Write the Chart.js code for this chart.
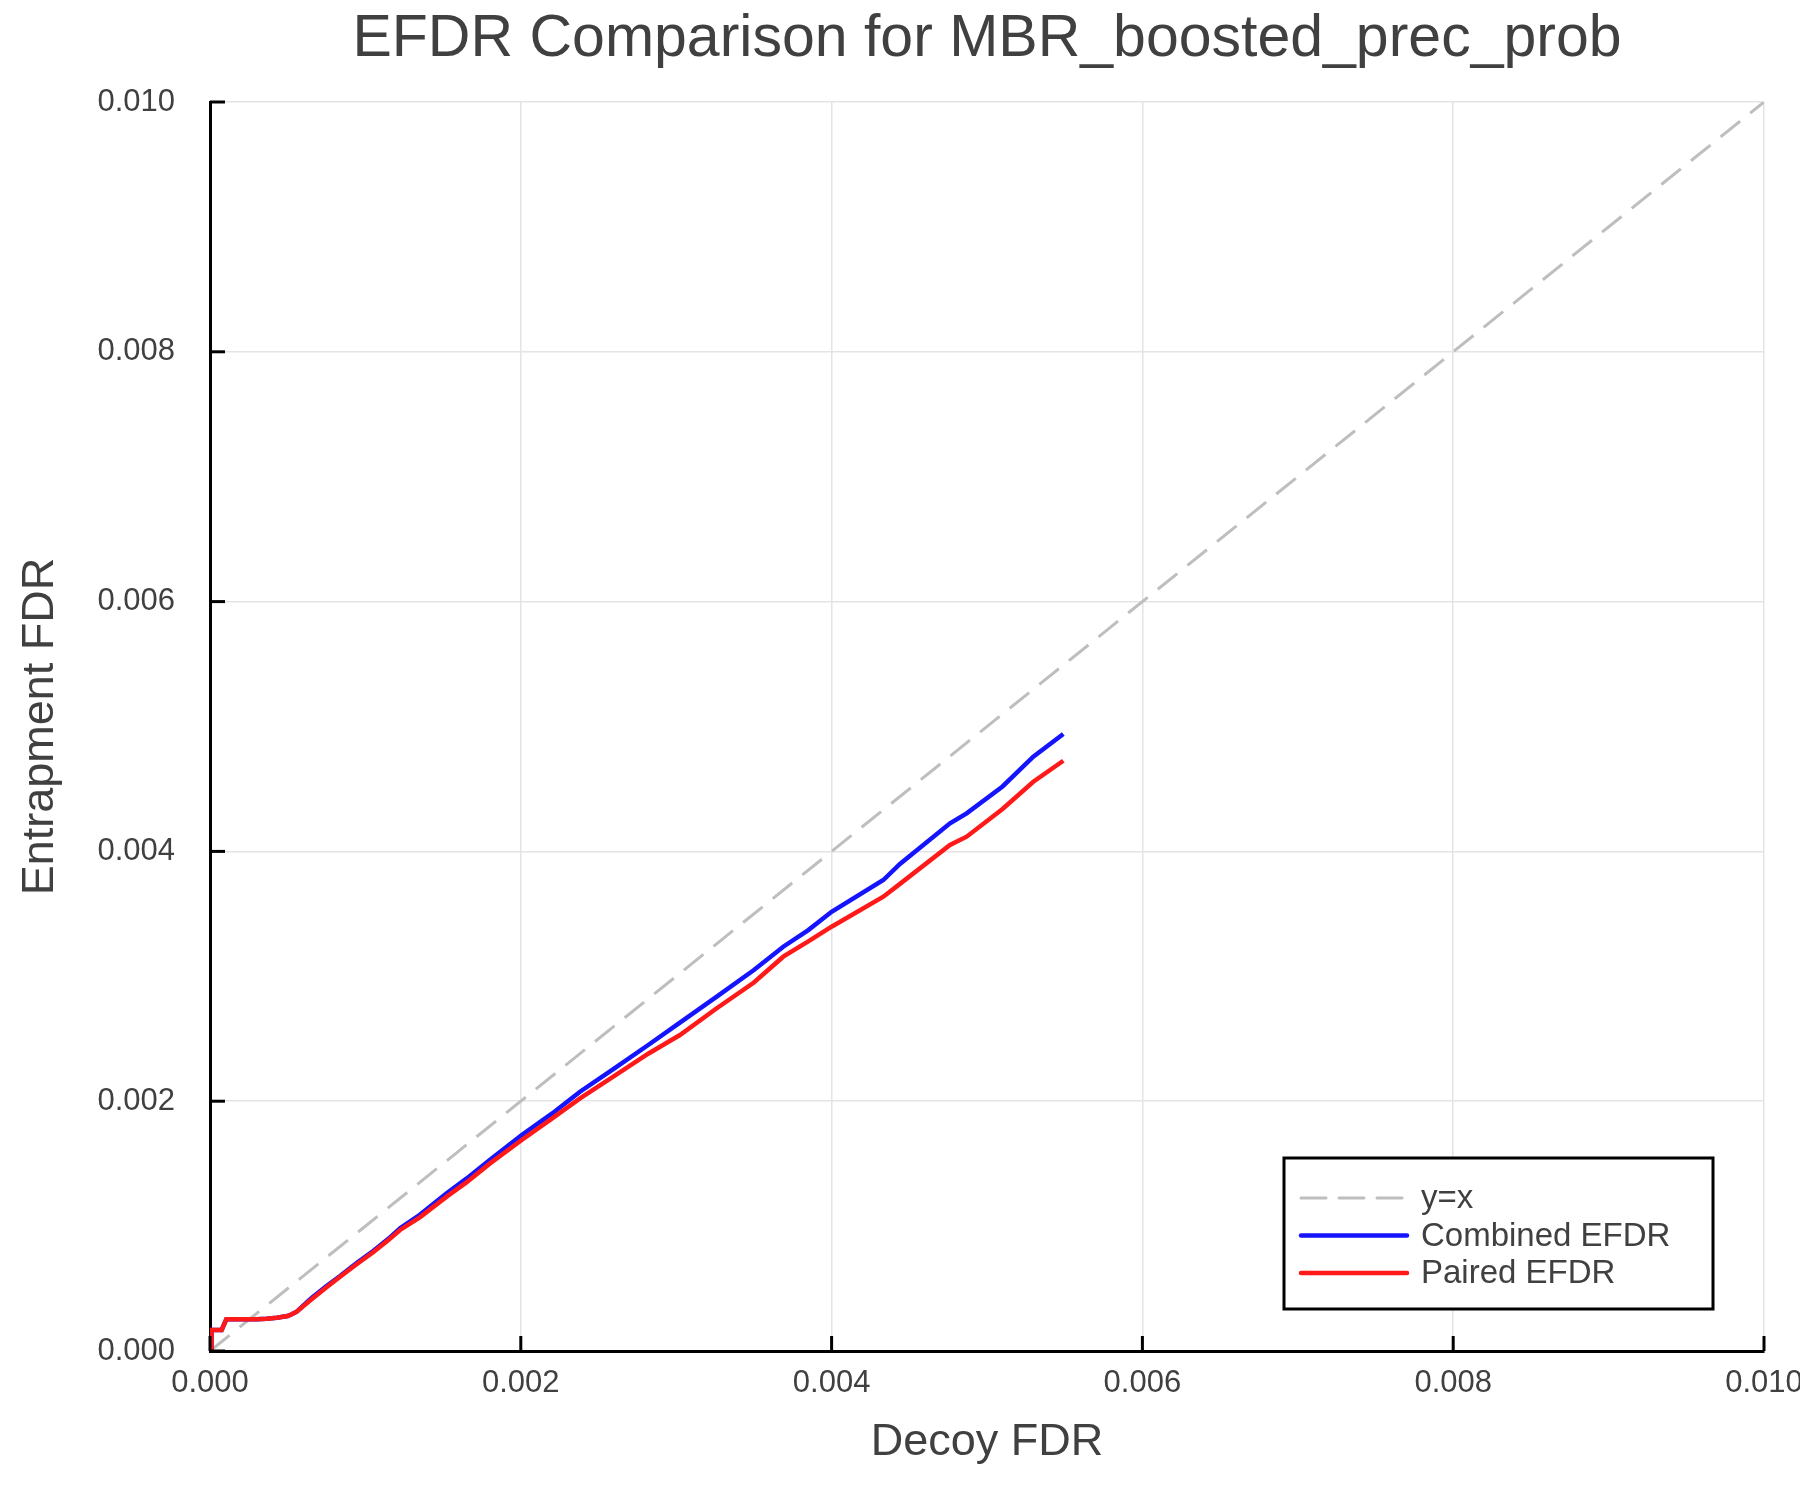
<!DOCTYPE html>
<html>
<head>
<meta charset="utf-8">
<title>EFDR Comparison</title>
<script src="https://cdn.jsdelivr.net/npm/chart.js@4.4.1/dist/chart.umd.min.js"></script>
<style>
  html, body { margin: 0; padding: 0; background: #fff; }
  #wrap { width: 1800px; height: 1500px; }
</style>
</head>
<body>
<div id="wrap"><canvas id="grafico" width="1800" height="1500"></canvas></div>
<script>
// dati
const decoyFdr = [0, 0.000008, 0.00001, 0.000075, 0.000105, 0.0002, 0.0003, 0.000365, 0.00043, 0.0005,
  0.000526, 0.000558, 0.00065, 0.00075, 0.000837, 0.00095, 0.00105, 0.00115, 0.001223, 0.00135,
  0.001523, 0.00165, 0.0018, 0.002006, 0.0022, 0.002381, 0.0026, 0.00282, 0.003024, 0.003261,
  0.0035, 0.003689, 0.00385, 0.004, 0.004333, 0.00444, 0.004762, 0.004869, 0.0051, 0.005298, 0.005491];

const combinedEfdr = [0, 0, 0.000168, 0.000168, 0.000254, 0.000254, 0.000255, 0.000258, 0.000267, 0.00028,
  0.000294, 0.000315, 0.00042, 0.00052, 0.0006, 0.00071, 0.0008, 0.0009, 0.000982, 0.00109,
  0.001262, 0.00138, 0.00153, 0.001729, 0.0019, 0.002076, 0.00226, 0.00245, 0.002629, 0.002837,
  0.00305, 0.003237, 0.00337, 0.003517, 0.003771, 0.0039, 0.004225, 0.004305, 0.00452, 0.004758, 0.00494];

const pairedEfdr = [0, 0, 0.000168, 0.000168, 0.000254, 0.000254, 0.000255, 0.000258, 0.000267, 0.00028,
  0.000294, 0.000315, 0.00041, 0.00051, 0.000595, 0.0007, 0.00079, 0.00089, 0.000969, 0.00107,
  0.001236, 0.00135, 0.0015, 0.001689, 0.00186, 0.002023, 0.0022, 0.00238, 0.00253, 0.002744,
  0.00295, 0.003157, 0.00328, 0.003397, 0.003637, 0.00374, 0.004051, 0.004118, 0.00434, 0.004558, 0.004726];

const identityLine = [0, 0.01];
const tickValues = [0, 0.002, 0.004, 0.006, 0.008, 0.01];

const font = "'Liberation Sans', Arial, sans-serif";
const textColor = "#404040";

// tacche verso l'interno, come nel grafico originale
const tacche = {
  id: "tacche",
  afterDatasetsDraw(chart) {
    const { ctx, chartArea, scales } = chart;
    ctx.save();
    ctx.strokeStyle = "#000";
    ctx.lineWidth = 3;
    tickValues.forEach((v) => {
      const px = scales.x.getPixelForValue(v);
      ctx.beginPath();
      ctx.moveTo(px, chartArea.bottom);
      ctx.lineTo(px, chartArea.bottom - 15);
      ctx.stroke();
      const py = scales.y.getPixelForValue(v);
      ctx.beginPath();
      ctx.moveTo(chartArea.left, py);
      ctx.lineTo(chartArea.left + 15, py);
      ctx.stroke();
    });
    ctx.restore();
  }
};

// legenda dentro l'area del grafico, in basso a destra
const legenda = {
  id: "legenda",
  afterDraw(chart) {
    const { ctx, chartArea } = chart;
    const right = chartArea.right - 51;
    const bottom = chartArea.bottom - 42;
    const left = right - 429;
    const top = bottom - 151;
    ctx.save();
    ctx.fillStyle = "#fff";
    ctx.fillRect(left, top, right - left, bottom - top);
    ctx.strokeStyle = "#000";
    ctx.lineWidth = 3;
    ctx.strokeRect(left, top, right - left, bottom - top);
    ctx.font = "33px " + font;
    ctx.textBaseline = "middle";
    chart.data.datasets.forEach((ds, i) => {
      const y = top + 40 + i * 37.5;
      ctx.strokeStyle = ds.borderColor;
      ctx.lineWidth = ds.borderWidth;
      ctx.lineCap = "round";
      ctx.setLineDash(ds.borderDash || []);
      ctx.beginPath();
      ctx.moveTo(left + 17, y);
      ctx.lineTo(left + 123, y);
      ctx.stroke();
      ctx.setLineDash([]);
      ctx.fillStyle = textColor;
      ctx.fillText(ds.label, left + 137, y + 1);
    });
    ctx.restore();
  }
};

const grafico = new Chart("grafico", {
  type: "scatter",
  data: {
    datasets: [
      {
        label: "y=x",
        data: identityLine.map((v) => ({ x: v, y: v })),
        showLine: true,
        borderColor: "rgb(190,190,190)",
        borderWidth: 3,
        borderDash: [25, 13],
        pointRadius: 0,
        order: 2
      },
      {
        label: "Combined EFDR",
        data: decoyFdr.map((x, i) => ({ x: x, y: combinedEfdr[i] })),
        showLine: true,
        borderColor: "rgb(20,20,255)",
        borderWidth: 4.5,
        pointRadius: 0,
        order: 1
      },
      {
        label: "Paired EFDR",
        data: decoyFdr.map((x, i) => ({ x: x, y: pairedEfdr[i] })),
        showLine: true,
        borderColor: "rgb(255,25,25)",
        borderWidth: 4.5,
        pointRadius: 0,
        order: 0
      }
    ]
  },
  options: {
    responsive: false,
    animation: false,
    devicePixelRatio: 1,
    layout: { padding: { left: 0, right: 36, top: 0, bottom: 0 } },
    plugins: {
      legend: { display: false },
      tooltip: { enabled: false },
      title: {
        display: true,
        fullSize: false,
        text: "EFDR Comparison for MBR_boosted_prec_prob",
        color: textColor,
        font: { family: font, size: 59, weight: "normal" },
        padding: { top: 4, bottom: 27.2 }
      }
    },
    scales: {
      x: {
        type: "linear",
        min: 0,
        max: 0.01,
        afterFit(scale) {
          scale.height = 149;
          scale.paddingLeft = 0;
          scale.paddingRight = 0;
        },
        afterBuildTicks(scale) {
          scale.ticks = tickValues.map((v) => ({ value: v }));
        },
        ticks: {
          color: textColor,
          font: { family: font, size: 31 },
          padding: 14,
          maxRotation: 0,
          callback: (v) => Number(v).toFixed(3)
        },
        grid: { color: "rgb(228,228,228)", lineWidth: 1.5, drawTicks: false },
        border: { display: true, color: "#000", width: 3 },
        title: {
          display: true,
          text: "Decoy FDR",
          color: textColor,
          font: { family: font, size: 45 },
          padding: { top: 0, bottom: 30 }
        }
      },
      y: {
        type: "linear",
        min: 0,
        max: 0.01,
        afterFit(scale) {
          scale.width = 210;
          scale.paddingTop = 0;
          scale.paddingBottom = 0;
        },
        afterBuildTicks(scale) {
          scale.ticks = tickValues.map((v) => ({ value: v }));
        },
        ticks: {
          color: textColor,
          font: { family: font, size: 31 },
          padding: 35,
          callback: (v) => Number(v).toFixed(3)
        },
        grid: { color: "rgb(228,228,228)", lineWidth: 1.5, drawTicks: false },
        border: { display: true, color: "#000", width: 3 },
        title: {
          display: true,
          text: "Entrapment FDR",
          color: textColor,
          font: { family: font, size: 45 },
          padding: { top: 14, bottom: 0 }
        }
      }
    }
  },
  plugins: [tacche, legenda]
});
</script>
</body>
</html>
